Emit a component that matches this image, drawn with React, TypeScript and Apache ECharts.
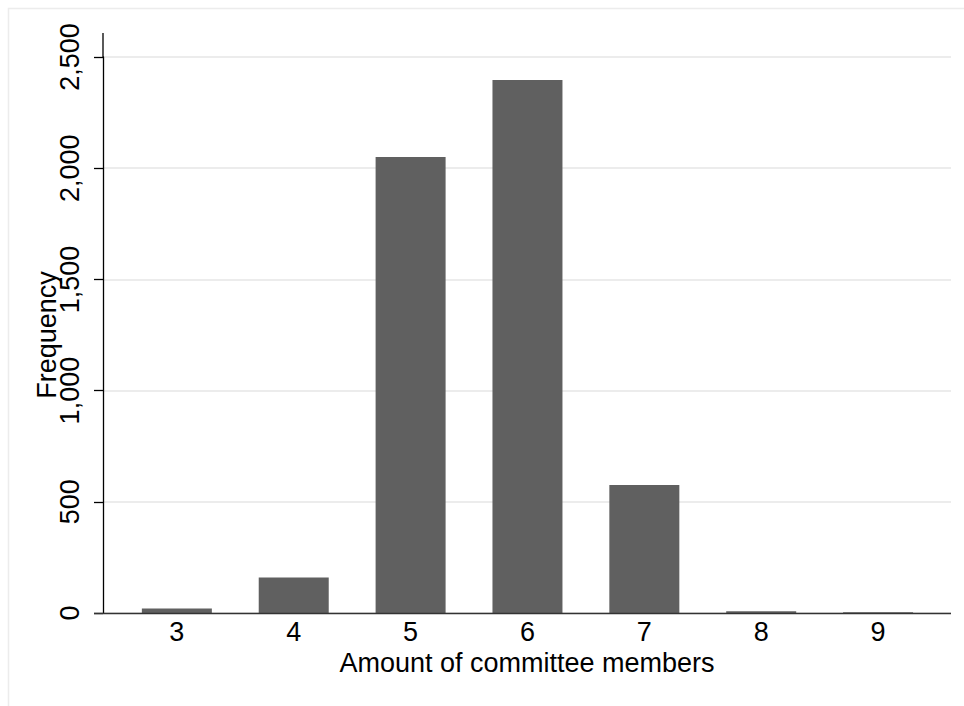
import React, { useEffect, useRef } from "react";
import * as echarts from "echarts";

const categories = [3, 4, 5, 6, 7, 8, 9];
const frequencies = [20, 160, 2050, 2397, 575, 8, 3];
const yTicks = [0, 500, 1000, 1500, 2000, 2500];

export default function App() {
  const ref = useRef<HTMLDivElement>(null);
  useEffect(() => {
    if (!ref.current) return;
    const chart = echarts.init(ref.current, undefined, { renderer: "svg" });
    const font = "'Liberation Sans', Arial, Helvetica, sans-serif";
    chart.setOption({
      animation: false,
      backgroundColor: "#ffffff",
      textStyle: { fontFamily: font },
      grid: { left: 103, right: 13, top: 57, bottom: 93, containLabel: false },
      xAxis: {
        type: "value",
        min: 2.368,
        max: 9.624,
        name: "Amount of committee members",
        nameLocation: "middle",
        nameGap: 36,
        nameMoveOverlap: false,
        nameTextStyle: { fontSize: 27, color: "#000", fontFamily: font },
        axisLine: { show: false },
        axisTick: { show: false },
        splitLine: { show: false },
        axisLabel: {
          customValues: categories,
          fontSize: 27,
          color: "#000",
          margin: 5,
          fontFamily: font,
        },
      },
      yAxis: {
        type: "value",
        min: 0,
        max: 2500,
        interval: 500,
        name: "Frequency",
        nameLocation: "middle",
        nameRotate: 90,
        nameGap: 43,
        nameMoveOverlap: false,
        nameTextStyle: { fontSize: 27, color: "#000", fontFamily: font },
        axisLine: { show: true, lineStyle: { color: "#000", width: 1.3 } },
        axisTick: { show: true, length: 9, lineStyle: { color: "#000", width: 1.3 } },
        splitLine: { show: true, lineStyle: { color: "#e6e6e6", width: 1.5 } },
        axisLabel: {
          rotate: 90,
          fontSize: 27,
          color: "#000",
          margin: 20,
          fontFamily: font,
          formatter: (v: number) => (yTicks.includes(v) ? v.toLocaleString("en-US") : ""),
        },
      },
      series: [
        {
          type: "bar",
          barWidth: 70,
          itemStyle: { color: "#606060" },
          data: categories.map((c, i) => [c, frequencies[i]]),
          z: 3,
        },
      ],
      graphic: [
        {
          type: "rect",
          shape: { x: 8.5, y: 8.5, width: 970, height: 720 },
          style: { fill: "none", stroke: "#ececec", lineWidth: 1.5 },
          silent: true,
          z: 0,
        },
        {
          type: "line",
          shape: { x1: 103, y1: 33, x2: 103, y2: 57 },
          style: { stroke: "#000", lineWidth: 1.3 },
          z: 10,
        },
        {
          type: "line",
          shape: { x1: 94, y1: 613.5, x2: 951, y2: 613.5 },
          style: { stroke: "#333", lineWidth: 1.3 },
          z: 10,
        },
      ],
    });
    return () => chart.dispose();
  }, []);
  return (
    <div
      ref={ref}
      style={{ position: "fixed", left: 0, top: 0, width: 964, height: 706 }}
    />
  );
}
